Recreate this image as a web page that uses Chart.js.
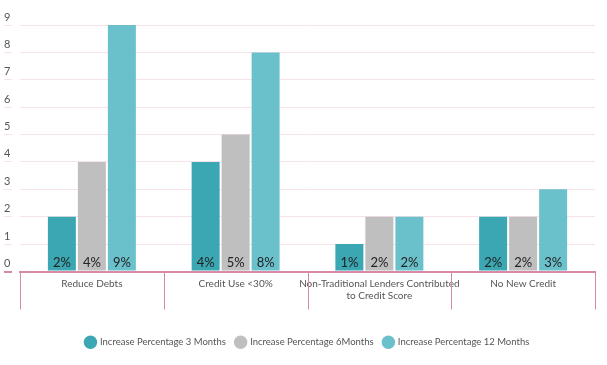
<!DOCTYPE html>
<html>
<head>
<meta charset="utf-8">
<script src="https://cdn.jsdelivr.net/npm/chart.js@4"></script>
<style>
  body { margin: 0; background: #fff; }
  #wrap { width: 607px; height: 365px; }
</style>
</head>
<body>
<div id="wrap"><canvas id="chart"></canvas></div>
<script>
const categories = ["Reduce Debts", "Credit Use <30%", ["Non-Traditional Lenders Contributed", "to Credit Score"], "No New Credit"];
const inc3 = [2, 4, 1, 2];
const inc6 = [4, 5, 2, 2];
const inc12 = [9, 8, 2, 3];
const yTicks = [0, 1, 2, 3, 4, 5, 6, 7, 8, 9];

const fontStack = "Lato, 'Open Sans', sans-serif";
const pink = '#d98aa6';
const lightPink = '#f6e3ea';

// percent labels at the foot of each bar
const barLabels = {
    id: 'barLabels',
    afterDatasetsDraw(chart) {
        const ctx = chart.ctx;
        ctx.save();
        ctx.font = '13px ' + fontStack;
        ctx.fillStyle = '#222';
        ctx.textAlign = 'center';
        ctx.textBaseline = 'middle';
        chart.data.datasets.forEach((ds, i) => {
            chart.getDatasetMeta(i).data.forEach((bar, j) => {
                ctx.fillText(ds.data[j] + '%', bar.x, bar.base - 8);
            });
        });
        ctx.restore();
    }
};

// vertical separators between the categories, under the axis
const separators = {
    id: 'separators',
    afterDraw(chart) {
        const x = chart.scales.x;
        const ctx = chart.ctx;
        ctx.save();
        ctx.strokeStyle = pink;
        ctx.lineWidth = 1;
        for (let i = 0; i <= categories.length; i++) {
            const px = Math.round(x.getPixelForValue(i - 0.5)) + 0.5;
            ctx.beginPath();
            ctx.moveTo(px, x.top);
            ctx.lineTo(px, x.top + 38);
            ctx.stroke();
        }
        ctx.restore();
    }
};

const chart = new Chart(document.getElementById('chart'), {
    type: 'bar',
    data: {
        labels: categories,
        datasets: [
            { label: 'Increase Percentage 3 Months', data: inc3, backgroundColor: '#3ba7b3' },
            { label: 'Increase Percentage 6Months', data: inc6, backgroundColor: '#bfbfbf' },
            { label: 'Increase Percentage 12 Months', data: inc12, backgroundColor: '#6bc1cb' }
        ]
    },
    options: {
        responsive: true,
        maintainAspectRatio: false,
        animation: false,
        categoryPercentage: 0.626,
        barPercentage: 0.933,
        layout: { padding: { left: 20, right: 12, top: 25, bottom: 8 } },
        scales: {
            x: {
                afterFit: s => { s.height = 56; },
                grid: { display: false, drawTicks: false },
                border: { display: true, color: pink, width: 2 },
                ticks: { padding: 6, maxRotation: 0, minRotation: 0, autoSkip: false, color: '#555', font: { family: fontStack, size: 10 } }
            },
            y: {
                min: 0, max: 9,
                afterBuildTicks: axis => { axis.ticks = yTicks.map(v => ({ value: v })); },
                grid: {
                    color: c => c.tick && c.tick.value === 0 ? pink : lightPink,
                    lineWidth: c => c.tick && c.tick.value === 0 ? 2 : 1,
                    tickLength: 8
                },
                border: { display: false },
                ticks: { mirror: true, padding: -8, labelOffset: -8, color: '#555', font: { family: fontStack, size: 11 } }
            }
        },
        plugins: {
            legend: {
                position: 'bottom',
                labels: {
                    usePointStyle: true, pointStyle: 'circle', boxWidth: 15, boxHeight: 15,
                    padding: 10, color: '#555', font: { family: fontStack, size: 9.5 }
                }
            },
            tooltip: { enabled: false }
        }
    },
    plugins: [barLabels, separators]
});
</script>
</body>
</html>
